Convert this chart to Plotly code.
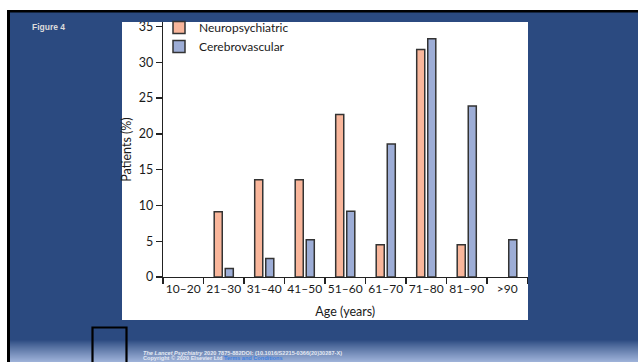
import plotly.graph_objects as go

# ---- data ----
categories = ["10–20", "21–30", "31–40", "41–50", "51–60", "61–70", "71–80", "81–90", ">90"]
neuropsychiatric = [0, 9.1, 13.6, 13.6, 22.7, 4.5, 31.8, 4.5, 0]
cerebrovascular = [0, 1.2, 2.6, 5.2, 9.2, 18.6, 33.3, 23.9, 5.2]
series_names = ["Neuropsychiatric", "Cerebrovascular"]
y_ticks = [0, 5, 10, 15, 20, 25, 30, 35]

# ---- style ----
W, H = 638, 362
BG = "#2b4a80"
NEURO_C = "#f9b69b"
CERE_C = "#9dadd6"
EDGE = "#333333"
AX = "#222222"
FONT = "Lato, Liberation Sans, Arial, sans-serif"


def px(x):
    return x / W


def py(y):
    return 1 - y / H


def bar_opacity(values):
    # empty (zero-height) bars leave no visible outline on the baseline
    return [0 if v == 0 else 1 for v in values]


fig = go.Figure()
fig.add_trace(go.Bar(x=categories, y=neuropsychiatric, name=series_names[0],
                     marker=dict(color=NEURO_C, opacity=bar_opacity(neuropsychiatric),
                                 line=dict(color=EDGE, width=1.5))))
fig.add_trace(go.Bar(x=categories, y=cerebrovascular, name=series_names[1],
                     marker=dict(color=CERE_C, opacity=bar_opacity(cerebrovascular),
                                 line=dict(color=EDGE, width=1.5))))

shapes = []
# white figure panel
shapes.append(dict(type="rect", xref="paper", yref="paper", x0=px(122), x1=px(528),
                   y0=py(320), y1=py(22), fillcolor="white", line_width=0, layer="below"))
# bottom gradient band
top_c = (0x2b, 0x4a, 0x80)
bot_c = (0x9f, 0xb3, 0xda)
g0, g1 = 340, 362
n = g1 - g0
for i in range(n):
    t = (i + 0.5) / n
    t = t ** 0.9
    c = tuple(int(round(top_c[k] + (bot_c[k] - top_c[k]) * t)) for k in range(3))
    shapes.append(dict(type="rect", xref="paper", yref="paper", x0=px(10), x1=1,
                       y0=py(g0 + i + 1), y1=py(g0 + i), fillcolor="rgb(%d,%d,%d)" % c,
                       line_width=0, layer="below"))
# clip strip above panel (covers overflow of top tick label)
shapes.append(dict(type="rect", xref="paper", yref="paper", x0=px(122), x1=px(528),
                   y0=py(22), y1=py(12), fillcolor=BG, line_width=0, layer="above"))
# top white strip and black frame lines
shapes.append(dict(type="rect", xref="paper", yref="paper", x0=0, x1=1,
                   y0=py(10), y1=1, fillcolor="white", line_width=0, layer="above"))
shapes.append(dict(type="rect", xref="paper", yref="paper", x0=0, x1=px(7),
                   y0=0, y1=1, fillcolor="white", line_width=0, layer="above"))
shapes.append(dict(type="rect", xref="paper", yref="paper", x0=px(7), x1=1,
                   y0=py(12.5), y1=py(10), fillcolor="black", line_width=0, layer="above"))
shapes.append(dict(type="rect", xref="paper", yref="paper", x0=px(7), x1=px(10),
                   y0=0, y1=py(10), fillcolor="black", line_width=0, layer="above"))
# outlined box near the footer (bottom edge runs off the page)
shapes.append(dict(type="rect", xref="paper", yref="paper", x0=px(92.5), x1=px(126.5),
                   y0=py(366), y1=py(327.5), fillcolor="rgba(0,0,0,0)",
                   line=dict(color="black", width=2.2), layer="above"))

annotations = [
    dict(text="<b>Figure 4</b>", xref="paper", yref="paper", x=px(30), y=py(27),
         xanchor="left", yanchor="middle", showarrow=False,
         font=dict(family="Liberation Sans, Arial, sans-serif", size=8.5, color="#dcdcdc")),
    dict(text="<b><i>The Lancet Psychiatry</i> 2020 7875-882DOI: (10.1016/S2215-0366(20)30287-X)</b>",
         xref="paper", yref="paper", x=px(140.5), y=py(352.5), xanchor="left", yanchor="middle",
         showarrow=False,
         font=dict(family="Liberation Sans, Arial, sans-serif", size=5.6, color="#e4e9f3")),
    dict(text="<b>Copyright © 2020 Elsevier Ltd <span style='color:#3d7fe0'>Terms and Conditions</span></b>",
         xref="paper", yref="paper", x=px(140.5), y=py(358.3), xanchor="left", yanchor="middle",
         showarrow=False,
         font=dict(family="Liberation Sans, Arial, sans-serif", size=5.6, color="#e4e9f3")),
]

fig.update_layout(
    width=W, height=H,
    margin=dict(l=0, r=0, t=0, b=0, autoexpand=False),
    paper_bgcolor=BG,
    plot_bgcolor="white",
    barmode="group",
    bargap=0.455,
    bargroupgap=0.27,
    font=dict(family=FONT, size=12, color="#1a1a1a"),
    shapes=shapes,
    annotations=annotations,
    showlegend=True,
    legend=dict(x=px(159), y=py(13), xanchor="left", yanchor="top",
                bgcolor="rgba(0,0,0,0)", font=dict(family=FONT, size=12, color="#1a1a1a"),
                itemclick=False, itemdoubleclick=False),
    xaxis=dict(domain=[px(163), px(527.5)], type="category", range=[-0.5, 8.5],
               showline=True, linecolor=AX, linewidth=1.3, automargin=False,
               ticks="outside", tickson="boundaries", ticklen=6, tickwidth=1.3, tickcolor=AX,
               tickangle=0,
               showgrid=False, zeroline=False, fixedrange=True,
               tickfont=dict(family=FONT, size=12, color="#1a1a1a"),
               title=dict(text="Age (years)", standoff=12,
                          font=dict(family=FONT, size=12.5, color="#1a1a1a"))),
    yaxis=dict(domain=[py(277), py(22)], range=[0, 35.63],
               tickvals=y_ticks, showline=True, linecolor=AX, linewidth=1.3, automargin=False,
               ticks="outside", ticklen=6, tickwidth=1.3, tickcolor=AX,
               showgrid=False, zeroline=False, fixedrange=True,
               tickfont=dict(family=FONT, size=12.5, color="#1a1a1a"),
               title=dict(text="Patients (%)", standoff=4,
                          font=dict(family=FONT, size=12.5, color="#1a1a1a"))),
)

post = (
    "var st=document.createElement('style');"
    "st.textContent='html,body{margin:0!important;padding:0!important;overflow:hidden!important;}';"
    "document.head.appendChild(st);"
)

fig.write_html("out.html", config={"displayModeBar": False, "staticPlot": True},
               post_script=post)
